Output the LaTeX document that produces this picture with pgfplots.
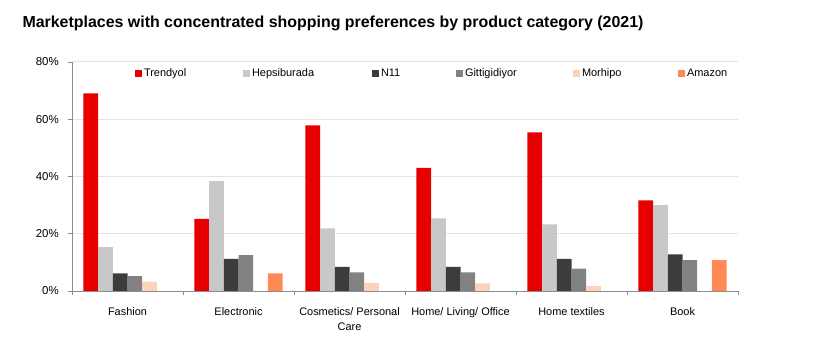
\documentclass[border=0pt]{standalone}
\usepackage{fontspec}
\setmainfont{Liberation Sans}
\usepackage{pgfplots}
\pgfplotsset{compat=1.18}
\definecolor{cTren}{HTML}{E60000}
\definecolor{cHeps}{HTML}{C8C8C8}
\definecolor{cN}{HTML}{3C3C3C}
\definecolor{cGit}{HTML}{828282}
\definecolor{cMor}{HTML}{FCD2BC}
\definecolor{cAmz}{HTML}{FF8A55}
\definecolor{gridc}{HTML}{E4E4E4}
\definecolor{axc}{HTML}{8C8C8C}
\pgfplotsset{leg/.style={legend image code/.code={\fill[##1] (0bp,-3.5bp) rectangle (7bp,3.5bp);}}}
\begin{document}
\begin{tikzpicture}
\path[use as bounding box] (0,0) rectangle (818bp,353bp);
\node[anchor=west, font=\bfseries\fontsize{16}{18}\selectfont] at (19bp,330bp) {Marketplaces with concentrated shopping preferences by product category (2021)};
\begin{axis}[
  at={(72bp,62bp)}, anchor=south west,
  scale only axis, width=666bp, height=229bp,
  ybar=0pt, bar width=14.7bp,
  xmin=-0.5, xmax=5.5, ymin=0, ymax=80,
  axis x line*=bottom, axis y line*=left,
  axis line style={axc, line width=0.8bp},
  xtick={0,1,2,3,4,5},
  xticklabels={Fashion, Electronic, {Cosmetics/ Personal\\Care}, {Home/ Living/ Office}, Home textiles, Book},
  major x tick style={draw=none},
  minor xtick={-0.5,0.5,1.5,2.5,3.5,4.5,5.5},
  minor tick length=4bp,
  minor x tick style={axc, line width=0.8bp},
  x tick label style={anchor=north, inner sep=0pt, yshift=-12bp, align=center, font=\fontsize{11}{15}\selectfont},
  ytick={0,20,40,60,80},
  yticklabels={0\%,20\%,40\%,60\%,80\%},
  tick align=outside,
  major tick length=4bp,
  y tick style={axc, line width=0.8bp},
  y tick label style={anchor=east, inner sep=0pt, xshift=-9bp, font=\fontsize{11.5}{13}\selectfont},
  ymajorgrids, grid style={gridc, line width=1bp},
  legend columns=6,
  legend style={at={(0.0946,0.95)}, anchor=west, draw=none, fill=none, inner sep=0pt, outer sep=0pt, column sep=2bp, font=\fontsize{11}{13}\selectfont, nodes={inner sep=0pt}},
]
\addplot[fill=cTren, draw=none, leg] coordinates {(0,69) (1,25.2) (2,57.9) (3,43) (4,55.4) (5,31.7)};
\addlegendentry{\makebox[97bp][l]{Trendyol}}
\addplot[fill=cHeps, draw=none, leg] coordinates {(0,15.3) (1,38.4) (2,21.9) (3,25.4) (4,23.3) (5,30)};
\addlegendentry{\makebox[118bp][l]{Hepsiburada}}
\addplot[fill=cN, draw=none, leg] coordinates {(0,6.2) (1,11.2) (2,8.4) (3,8.4) (4,11.2) (5,12.8)};
\addlegendentry{\makebox[73bp][l]{N11}}
\addplot[fill=cGit, draw=none, leg] coordinates {(0,5.2) (1,12.5) (2,6.5) (3,6.5) (4,7.8) (5,10.8)};
\addlegendentry{\makebox[106bp][l]{Gittigidiyor}}
\addplot[fill=cMor, draw=none, leg] coordinates {(0,3.3) (2,2.8) (3,2.7) (4,1.7)};
\addlegendentry{\makebox[94bp][l]{Morhipo}}
\addplot[fill=cAmz, draw=none, leg] coordinates {(1,6.2) (5,10.8)};
\addlegendentry{Amazon}
\end{axis}
\end{tikzpicture}
\end{document}
